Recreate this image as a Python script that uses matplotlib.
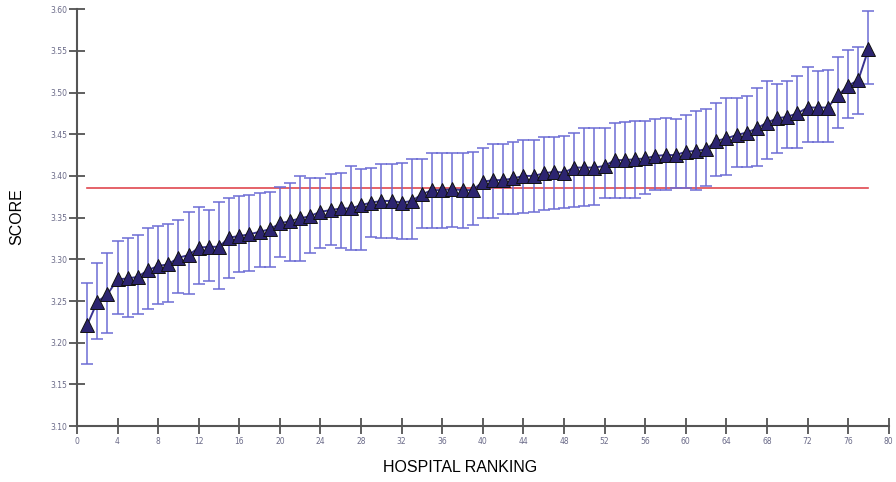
import matplotlib
matplotlib.use("Agg")
import matplotlib.pyplot as plt
import numpy as np

rank = list(range(1, 79))
score = [3.221, 3.249, 3.258, 3.276, 3.277, 3.279, 3.287, 3.292, 3.294, 3.302,
         3.305, 3.314, 3.315, 3.315, 3.326, 3.328, 3.330, 3.333, 3.336, 3.343,
         3.346, 3.349, 3.352, 3.357, 3.359, 3.361, 3.361, 3.365, 3.368, 3.370,
         3.370, 3.368, 3.370, 3.378, 3.383, 3.383, 3.384, 3.383, 3.383, 3.393,
         3.395, 3.395, 3.397, 3.400, 3.400, 3.403, 3.405, 3.404, 3.410, 3.410,
         3.410, 3.412, 3.419, 3.419, 3.420, 3.421, 3.424, 3.425, 3.425, 3.429,
         3.430, 3.432, 3.442, 3.445, 3.449, 3.452, 3.457, 3.464, 3.469, 3.471,
         3.475, 3.482, 3.482, 3.482, 3.497, 3.508, 3.515, 3.552]
upper = [3.271, 3.296, 3.308, 3.322, 3.325, 3.329, 3.337, 3.340, 3.342, 3.347,
         3.357, 3.363, 3.359, 3.369, 3.374, 3.376, 3.377, 3.379, 3.381, 3.387,
         3.392, 3.400, 3.398, 3.398, 3.402, 3.404, 3.412, 3.408, 3.410, 3.414,
         3.414, 3.416, 3.420, 3.420, 3.427, 3.428, 3.428, 3.428, 3.429, 3.434,
         3.438, 3.438, 3.441, 3.443, 3.443, 3.447, 3.447, 3.448, 3.451, 3.457,
         3.457, 3.457, 3.463, 3.465, 3.466, 3.466, 3.468, 3.469, 3.468, 3.473,
         3.478, 3.480, 3.488, 3.493, 3.493, 3.496, 3.505, 3.514, 3.510, 3.514,
         3.520, 3.531, 3.526, 3.527, 3.543, 3.551, 3.555, 3.598]
lower = [3.174, 3.205, 3.212, 3.234, 3.231, 3.235, 3.241, 3.247, 3.249, 3.260,
         3.258, 3.270, 3.274, 3.265, 3.278, 3.285, 3.286, 3.291, 3.291, 3.303,
         3.298, 3.298, 3.307, 3.313, 3.317, 3.314, 3.311, 3.311, 3.327, 3.326,
         3.325, 3.324, 3.324, 3.338, 3.338, 3.338, 3.339, 3.338, 3.341, 3.349,
         3.349, 3.354, 3.354, 3.356, 3.357, 3.359, 3.360, 3.362, 3.363, 3.364,
         3.365, 3.374, 3.373, 3.373, 3.374, 3.378, 3.383, 3.383, 3.385, 3.386,
         3.383, 3.388, 3.400, 3.401, 3.411, 3.411, 3.412, 3.420, 3.428, 3.433,
         3.433, 3.441, 3.441, 3.441, 3.457, 3.469, 3.474, 3.510]
overall_mean = 3.386
xticks = list(range(0, 81, 4))
yticks = [3.10, 3.15, 3.20, 3.25, 3.30, 3.35, 3.40, 3.45, 3.50, 3.55, 3.60]

fig = plt.figure(figsize=(8.96, 4.82), dpi=100)
ax = fig.add_axes([0.0859, 0.116, 0.906, 0.865])

s = np.array(score)
yerr = np.vstack([s - np.array(lower), np.array(upper) - s])

ax.errorbar(rank, score, yerr=yerr, fmt='none', ecolor='#6c6cd4',
            elinewidth=1.1, capsize=4.2, capthick=1.1, zorder=2)
ax.plot([rank[0], rank[-1]], [overall_mean, overall_mean], color='#e0484f',
        lw=1.2, zorder=1)
ax.plot(rank, score, color='#3a3490', lw=1.4, marker='^', markersize=10.5,
        markerfacecolor='#2c2470', markeredgecolor='#111111',
        markeredgewidth=0.7, zorder=3)

ax.set_xlim(0, 80)
ax.set_ylim(3.10, 3.60)
ax.set_xticks(xticks)
ax.set_yticks(yticks)
ax.set_xticklabels([str(t) for t in xticks])
ax.set_yticklabels([f"{t:.2f}" for t in yticks])
for sp in ['top', 'right']:
    ax.spines[sp].set_visible(False)
for sp in ['left', 'bottom']:
    ax.spines[sp].set_color('#555555')
    ax.spines[sp].set_linewidth(1.5)
ax.tick_params(axis='both', direction='inout', length=12, width=1.2,
               colors='#444444', labelsize=5.5, labelcolor='#6a6a88')
ax.tick_params(axis='x', pad=2)
ax.tick_params(axis='y', pad=1)

fig.text(0.019, 0.55, 'SCORE', rotation=90, va='center', ha='center',
         fontsize=11.5, family='Liberation Sans')
fig.text(0.513, 0.03, 'HOSPITAL RANKING', va='center', ha='center',
         fontsize=11.5, family='Liberation Sans')

fig.savefig('out.png', dpi=100)
